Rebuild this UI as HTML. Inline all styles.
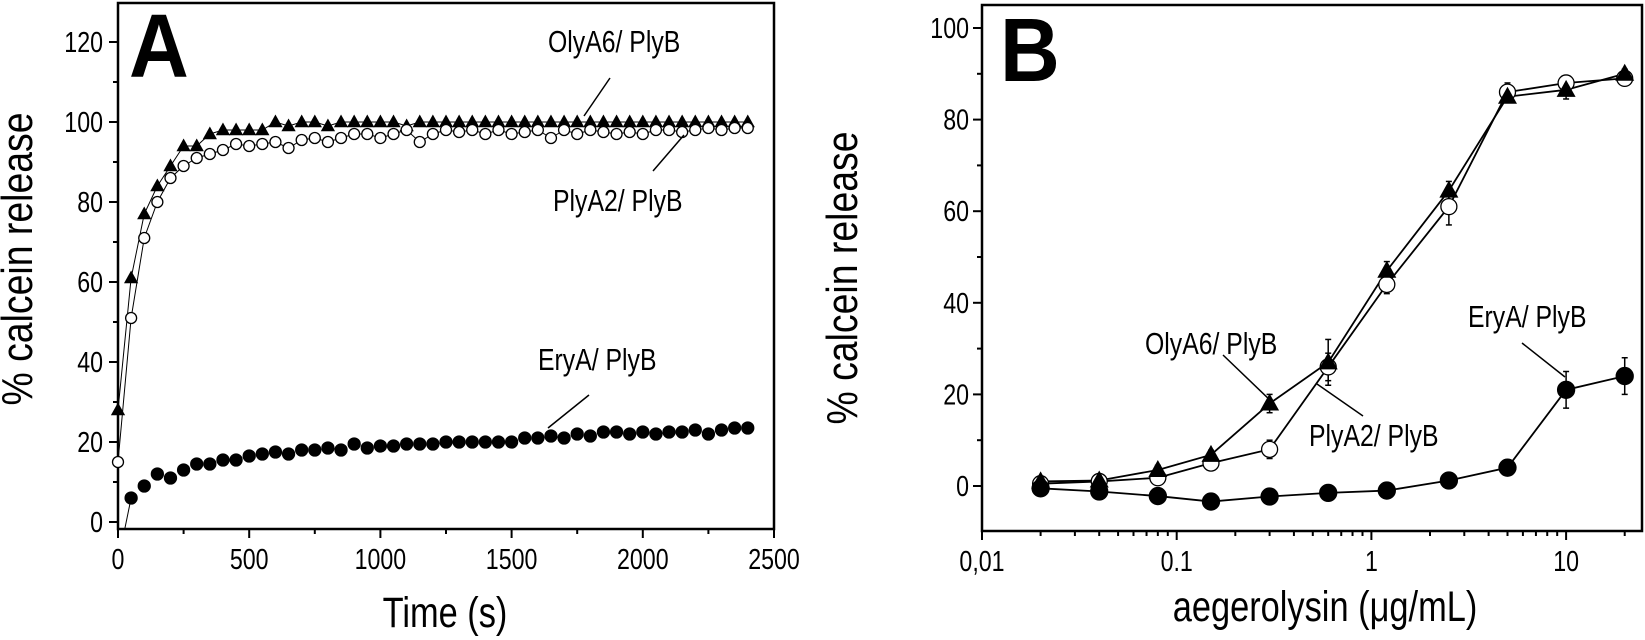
<!DOCTYPE html>
<html><head><meta charset="utf-8"><style>
html,body{margin:0;padding:0;background:#fff;}
svg{display:block;font-family:"Liberation Sans",Arial,sans-serif;}
</style></head><body>
<svg id="s" width="1645" height="640" viewBox="0 0 1645 640" xmlns="http://www.w3.org/2000/svg"></svg>
<script>
const S=document.getElementById('s');let h='';
function T(x,y,str,fs,anchor,sx,extra){h+=`<text transform="translate(${x},${y}) scale(${sx||0.8},1)" font-size="${fs}" text-anchor="${anchor||'start'}" ${extra||''}>${str}</text>`;}
function L(x1,y1,x2,y2,w){h+=`<line x1="${x1}" y1="${y1}" x2="${x2}" y2="${y2}" stroke="#000" stroke-width="${w||1.5}"/>`;}
function tri(x,y,s){h+=`<polygon points="${x},${y-s} ${x-s*0.95},${y+s*0.7} ${x+s*0.95},${y+s*0.7}" fill="#000"/>`;}
function circ(x,y,r,f){h+=`<circle cx="${x}" cy="${y}" r="${r}" fill="${f?'#000':'#fff'}" stroke="#000" stroke-width="1.3"/>`;}
function poly(pts,w){h+=`<polyline points="${pts.map(p=>p.join(',')).join(' ')}" fill="none" stroke="#000" stroke-width="${w||1}"/>`;}
// ===== Panel A =====
const ax=t=>118+t*(656/2500), ay=v=>522-v*4;
h+=`<rect x="118" y="3" width="656" height="526" fill="none" stroke="#000" stroke-width="2.5"/>`;
for(let v=0;v<=120;v+=10){const y=ay(v);L(118,y,v%20==0?109:113,y,2);if(v%20==0)T(103,y+10,v,29,'end');}
for(let t=0;t<=2500;t+=250){const x=ax(t);L(x,529,x,t%500==0?538:534,2);if(t%500==0)T(x,569,t,29,'middle');}
T(445,627,'Time (s)',43,'middle');
h+=`<text transform="translate(32,259) rotate(-90) scale(0.85,1)" font-size="44" text-anchor="middle">% calcein release</text>`;
h+=`<text transform="translate(129,77) scale(0.92,1)" font-size="90" font-weight="bold">A</text>`;
const triA=[28,61,77,84,89,94,94,97,98,98,98,98,100,99,100,100,99,100,100,100,100,100,99,100,100,100,100,100,100,100,100,100,100,100,100,100,100,100,100,100,100,100,100,100,100,100,100,100,100];
const opA=[15,51,71,80,86,89,91,92,93,94.5,94,94.5,95,93.5,95.5,96,95,96,97,97,96,97,98,95,97,98,97.5,98,97,98,97,97.5,98,96,98,97,98,97.5,97,97.5,97,98,98,97.5,98,98.5,98,98.5,98.5];
const fA=[null,6,9,12,11,13,14.5,14.5,15.5,15.5,16.5,17,17.5,17,18,18,18.5,18,19.5,18.5,19,19,19.5,19.5,19.5,20,20,20,20,20,20,21,21,21.5,21,22,21.5,22.5,22.5,22,22.5,22,22.5,22.5,23,22,23,23.5,23.5];
poly(triA.map((v,i)=>[ax(i*50),ay(v)]));
poly(opA.map((v,i)=>[ax(i*50),ay(v)]));
L(ax(25),ay(-2),ax(50),ay(6),1);
triA.forEach((v,i)=>tri(ax(i*50),ay(v),7.5));
opA.forEach((v,i)=>circ(ax(i*50),ay(v),5.5,false));
fA.forEach((v,i)=>{if(v!==null)circ(ax(i*50),ay(v),6,true);});
T(548,52,'OlyA6/ PlyB',31);L(610,78,584,116);
T(553,211,'PlyA2/ PlyB',31);L(684,135,653,171);
T(538,370,'EryA/ PlyB',31);L(589,395,548,428);
// ===== Panel B =====
const bx=c=>982+(Math.log10(c)+2)*194.7, by=v=>486-v*4.58;
h+=`<rect x="982" y="5" width="660" height="526" fill="none" stroke="#000" stroke-width="2.5"/>`;
for(let v=-20;v<=100;v+=10){const y=by(v);if(y<5||y>531)continue;L(982,y,v%20==0?973:977,y,2);if(v%20==0)T(969,y+10,v,29,'end');}
for(let d=-2;d<=1;d++){for(let m=1;m<=9;m++){const x=bx(m*Math.pow(10,d));if(x>1642)break;L(x,531,x,m==1?540:536,2);}}
[['0,01',0.01],['0.1',0.1],['1',1],['10',10]].forEach(a=>T(bx(a[1]),571,a[0],29,'middle'));
T(1325,621,'aegerolysin (μg/mL)',43,'middle');
h+=`<text transform="translate(857,278) rotate(-90) scale(0.85,1)" font-size="44" text-anchor="middle">% calcein release</text>`;
h+=`<text transform="translate(1000,81) scale(0.92,1)" font-size="90" font-weight="bold">B</text>`;
const xs=[0.02,0.04,0.08,0.15,0.3,0.6,1.2,2.5,5,10,20];
const tB=[1,1.2,3.5,6.8,18,27,47,64.5,85,86.5,90];
const oB=[0.5,1,1.8,5,8,26,44,61,86,88,89];
const fB=[-0.5,-1.2,-2.2,-3.4,-2.3,-1.5,-1,1.2,4,21,24];
const eT=[0,0,1,1,2,5,2,2,1,2,1],eO=[0,1,1,1,2,3,2,4,2,1,1],eF=[0,0,0,0,0,0,0,0,0,4,4];
function eb(x,v,e){if(!e)return;L(x,by(v-e),x,by(v+e),1.5);L(x-3,by(v+e),x+3,by(v+e),1.5);L(x-3,by(v-e),x+3,by(v-e),1.5);}
xs.forEach((c,i)=>{eb(bx(c),tB[i],eT[i]);eb(bx(c),oB[i],eO[i]);eb(bx(c),fB[i],eF[i]);});
poly(xs.map((c,i)=>[bx(c),by(tB[i])]),1.8);
poly(xs.map((c,i)=>[bx(c),by(oB[i])]),1.8);
poly(xs.map((c,i)=>[bx(c),by(fB[i])]),1.8);
xs.forEach((c,i)=>circ(bx(c),by(oB[i]),8,false));
xs.forEach((c,i)=>tri(bx(c),by(tB[i]),10));
xs.forEach((c,i)=>circ(bx(c),by(fB[i]),8.5,true));
T(1145,354,'OlyA6/ PlyB',31);L(1223,355,1272,402);
T(1309,446,'PlyA2/ PlyB',31);L(1317,384,1363,416);
T(1468,327,'EryA/ PlyB',31);L(1522,343,1565,377);
S.innerHTML=h;
</script>
</body></html>
